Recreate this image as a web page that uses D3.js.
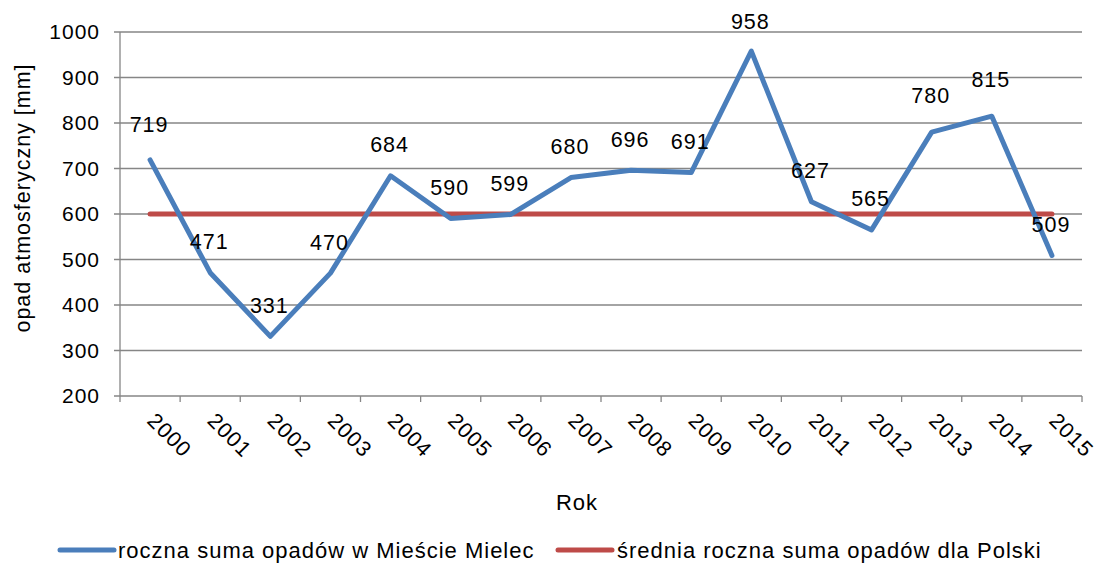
<!DOCTYPE html>
<html><head><meta charset="utf-8">
<script src="https://cdn.jsdelivr.net/npm/d3@7"></script>
<style>
body{margin:0;background:#fff;}
text{font-family:"Liberation Sans",Arial,sans-serif;fill:#000;}
</style></head>
<body><svg id="c" width="1098" height="570"></svg>
<script>
const years = ["2000","2001","2002","2003","2004","2005","2006","2007","2008","2009","2010","2011","2012","2013","2014","2015"];
const mielec = [719,471,331,470,684,590,599,680,696,691,958,627,565,780,815,509];
const polska = [600,600,600,600,600,600,600,600,600,600,600,600,600,600,600,600];
const yTicks = [200,300,400,500,600,700,800,900,1000];
const seriesNames = ["roczna suma opadów w Mieście Mielec","średnia roczna suma opadów dla Polski"];
const colors = ["#4A7EBB","#BE4B48"];

const svg = d3.select("#c");
const L=120,R=1082,T=32,B=396;
const x = d3.scaleBand().domain(years).range([L,R]);
const y = d3.scaleLinear().domain([200,1000]).range([B,T]);
const cx = d => x(d)+x.bandwidth()/2;
const grey="#868686";

// gridlines
svg.append("g").selectAll("line").data(yTicks).join("line")
  .attr("x1",L-6).attr("x2",R).attr("y1",d=>y(d)).attr("y2",d=>y(d))
  .attr("stroke",grey).attr("stroke-width",1.3);
svg.append("line").attr("x1",L).attr("x2",L).attr("y1",T).attr("y2",B).attr("stroke",grey).attr("stroke-width",1.3);
const bounds = years.map(d=>x(d)).concat([R]);
svg.append("g").selectAll("line").data(bounds).join("line")
  .attr("x1",d=>d).attr("x2",d=>d).attr("y1",B).attr("y2",B+6).attr("stroke",grey).attr("stroke-width",1.3);

// y tick labels
svg.append("g").selectAll("text").data(yTicks).join("text")
  .attr("x",100).attr("y",d=>y(d)).attr("dy","0.35em").attr("text-anchor","end")
  .style("font-size","21px").style("letter-spacing","1px").text(d=>d);

// x tick labels
svg.append("g").selectAll("text").data(years).join("text")
  .attr("transform",d=>`translate(${cx(d)-4},${B+26}) rotate(45)`)
  .attr("text-anchor","start").style("font-size","21.5px").style("letter-spacing","1px").text(d=>d);

// lines
const line = d3.line().x((d,i)=>cx(years[i])).y(d=>y(d));
svg.append("path").datum(polska).attr("d",line).attr("fill","none")
  .attr("stroke",colors[1]).attr("stroke-width",5).attr("stroke-linecap","round");
svg.append("path").datum(mielec).attr("d",line).attr("fill","none")
  .attr("stroke",colors[0]).attr("stroke-width",5).attr("stroke-linejoin","round").attr("stroke-linecap","round");

// data labels (some moved manually in the original)
const labelShift = {"2000":-35,"2013":-37,"2014":-37,"2010":-30};
svg.append("g").selectAll("text").data(mielec).join("text")
  .attr("x",(d,i)=>cx(years[i])-1).attr("y",(d,i)=>y(d)+(labelShift[years[i]]||-31)).attr("dy","0.35em")
  .attr("text-anchor","middle").style("font-size","21.5px").style("letter-spacing","1px").text(d=>d);

// axis titles
svg.append("text").attr("transform","translate(22,198) rotate(-90)").attr("dy","0.35em")
  .attr("text-anchor","middle").style("font-size","21.5px").style("letter-spacing","1px").text("opad atmosferyczny [mm]");
svg.append("text").attr("x",577).attr("y",502).attr("dy","0.35em")
  .attr("text-anchor","middle").style("font-size","22px").style("letter-spacing","1px").text("Rok");

// legend
const lg = [{x:60,tx:118},{x:558,tx:617}];
seriesNames.forEach((n,i)=>{
  svg.append("line").attr("x1",lg[i].x).attr("x2",lg[i].x+54).attr("y1",550).attr("y2",550)
    .attr("stroke",colors[i]).attr("stroke-width",5).attr("stroke-linecap","round");
  svg.append("text").attr("x",lg[i].tx).attr("y",550).attr("dy","0.35em")
    .style("font-size","22px").style("letter-spacing","1px").text(n);
});
</script></body></html>
